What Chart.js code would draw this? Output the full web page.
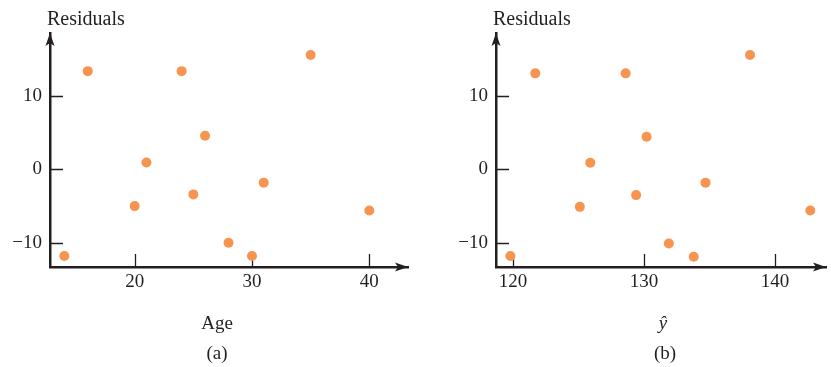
<!DOCTYPE html>
<html>
<head>
<meta charset="utf-8">
<script src="https://cdn.jsdelivr.net/npm/chart.js@4.4.1/dist/chart.umd.min.js"></script>
<style>
  html, body { margin: 0; padding: 0; background: #fff; }
  #page { position: relative; width: 831px; height: 367px; overflow: hidden; font-family: "Liberation Serif", "Times New Roman", serif; color: #231f20; }
  canvas { position: absolute; top: 0; }
  .lbl { position: absolute; line-height: 1; white-space: nowrap; font-size: 19px; }
  .mid { transform: translateX(-50%); }
</style>
</head>
<body>
<div id="page">
  <canvas id="chart-a" width="415" height="367" style="left:0"></canvas>
  <canvas id="chart-b" width="416" height="367" style="left:415px"></canvas>

  <div class="lbl" style="left:47px; top:8px; font-size:20px">Residuals</div>
  <div class="lbl mid" style="left:217px; top:313px">Age</div>
  <div class="lbl mid" style="left:217px; top:343px">(a)</div>

  <div class="lbl" style="left:493px; top:8px; font-size:20px">Residuals</div>
  <div class="lbl mid" style="left:663px; top:313px; font-style:italic">ŷ</div>
  <div class="lbl mid" style="left:665px; top:343px">(b)</div>
</div>

<script>
// ── Data ──────────────────────────────────────────────────
const ages      = [14, 16, 20, 21, 24, 25, 26, 28, 30, 31, 35, 40];
const residA    = [-11.8, 13.4, -5.0, 0.95, 13.4, -3.4, 4.6, -10.0, -11.8, -1.8, 15.6, -5.6];

const fitted    = [119.8, 121.7, 125.1, 125.9, 128.6, 129.4, 130.2, 131.9, 133.8, 134.7, 138.1, 142.7];
const residB    = [-11.8, 13.1, -5.1, 0.9, 13.1, -3.5, 4.45, -10.1, -11.9, -1.8, 15.6, -5.6];

const xTicksA   = [20, 30, 40];
const xTicksB   = [120, 130, 140];
const yTicks    = [-10, 0, 10];

// ── Style ─────────────────────────────────────────────────
const INK   = '#231f20';
const DOT   = '#f7944f';
const FONT  = { family: '"Liberation Serif", "Times New Roman", serif', size: 19 };

// inward tick marks + arrow heads on both axes
const axisDecor = {
  id: 'axisDecor',
  beforeDatasetsDraw(chart) {
    const { ctx, chartArea: a, scales: { x, y } } = chart;
    ctx.save();
    ctx.strokeStyle = INK;
    ctx.lineWidth = 1.3;
    ctx.beginPath();
    x.ticks.forEach(t => {
      const px = Math.round(x.getPixelForValue(t.value)) + 0.5;
      ctx.moveTo(px, a.bottom);
      ctx.lineTo(px, a.bottom - 13);
    });
    y.ticks.forEach(t => {
      const py = Math.round(y.getPixelForValue(t.value)) + 0.5;
      ctx.moveTo(a.left, py);
      ctx.lineTo(a.left + 13, py);
    });
    ctx.stroke();

    ctx.fillStyle = INK;
    // up arrow
    const ax = a.left, at = a.top;
    ctx.beginPath();
    ctx.moveTo(ax, at);
    ctx.lineTo(ax - 4.5, at + 13);
    ctx.lineTo(ax, at + 10);
    ctx.lineTo(ax + 4.5, at + 13);
    ctx.closePath();
    ctx.fill();
    // right arrow
    const rx = a.right, ry = a.bottom;
    ctx.beginPath();
    ctx.moveTo(rx, ry);
    ctx.lineTo(rx - 13, ry - 4.5);
    ctx.lineTo(rx - 10, ry);
    ctx.lineTo(rx - 13, ry + 4.5);
    ctx.closePath();
    ctx.fill();
    ctx.restore();
  }
};

function makePlot(id, xs, ys, xTicks, xMin, xMax, yAxisWidth, padRight) {
  return new Chart(document.getElementById(id), {
    type: 'scatter',
    data: {
      datasets: [{
        data: xs.map((v, i) => ({ x: v, y: ys[i] })),
        backgroundColor: DOT,
        borderWidth: 0,
        pointRadius: 5,
        pointHoverRadius: 5
      }]
    },
    options: {
      responsive: false,
      animation: false,
      events: [],
      layout: { padding: { left: 0, right: padRight, top: 33, bottom: 0 } },
      plugins: { legend: { display: false }, tooltip: { enabled: false } },
      scales: {
        x: {
          type: 'linear',
          min: xMin,
          max: xMax,
          afterFit: s => { s.height = 100; },
          afterBuildTicks: s => { s.ticks = xTicks.map(v => ({ value: v })); },
          grid: { display: false, drawTicks: false },
          border: { display: true, color: INK, width: 2.5 },
          ticks: { color: INK, font: FONT, padding: 4, maxRotation: 0 }
        },
        y: {
          type: 'linear',
          min: -13.3,
          max: 18.6,
          afterFit: s => { s.width = yAxisWidth; },
          afterBuildTicks: s => { s.ticks = yTicks.map(v => ({ value: v })); },
          grid: { display: false, drawTicks: false },
          border: { display: true, color: INK, width: 2.5 },
          ticks: {
            color: INK, font: FONT, padding: 8,
            callback: v => v < 0 ? '\u2212' + Math.abs(v) : String(v)
          }
        }
      }
    },
    plugins: [axisDecor]
  });
}

makePlot('chart-a', ages,   residA, xTicksA, 12.78, 43.3, 50, 7);
makePlot('chart-b', fitted, residB, xTicksB, 118.7, 143.9, 81, 1);
</script>
</body>
</html>
